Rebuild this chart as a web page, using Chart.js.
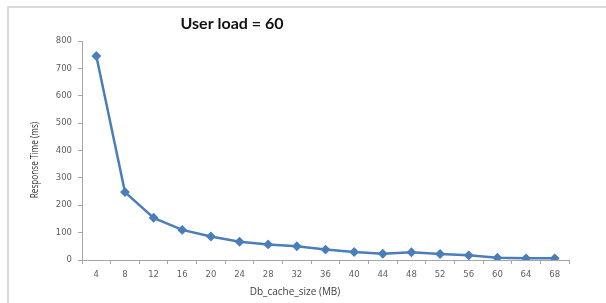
<!DOCTYPE html>
<html>
<head>
<meta charset="utf-8">
<script src="https://cdn.jsdelivr.net/npm/chart.js@4/dist/chart.umd.min.js"></script>
<style>
  html, body { margin: 0; padding: 0; background: #fff; }
  #wrap { position: relative; width: 606px; height: 303px; }
  #frame { position: absolute; left: 7px; top: 6px; right: 0; bottom: 0;
           border-top: 2px solid #d9d9d9; border-left: 2px solid #d9d9d9; }
  canvas { position: absolute; left: 0; top: 0; }
</style>
</head>
<body>
<div id="wrap">
  <div id="frame"></div>
  <canvas id="myChart" width="606" height="303"></canvas>
</div>
<script>
// chart data
var cacheSizes = ["4", "8", "12", "16", "20", "24", "28", "32", "36", "40", "44", "48", "52", "56", "60", "64", "68"];
var responseTimes = [745, 248, 154, 110, 86, 67, 57, 50, 38, 29, 23, 28, 22, 17, 8, 6, 6];
var yTicks = [0, 100, 200, 300, 400, 500, 600, 700, 800];

var chartTitle = "User load = 60";
var xTitle = "Db_cache_size (MB)";
var yTitle = "Response Time (ms)";

// draws the titles where the original had them
var titlesPlugin = {
  id: "titles",
  afterDraw: function (chart) {
    var ctx = chart.ctx;
    ctx.save();
    ctx.fillStyle = "#111";
    ctx.font = "bold 16px Lato, 'Open Sans', sans-serif";
    ctx.textAlign = "center";
    ctx.textBaseline = "middle";
    ctx.fillText(chartTitle, 232, 24);

    ctx.fillStyle = "#404040";
    ctx.font = "10px 'Open Sans', sans-serif";
    ctx.fillText(xTitle, 295, 292);

    // narrow look of the original y title
    ctx.translate(35, 160);
    ctx.rotate(-Math.PI / 2);
    ctx.scale(0.82, 1);
    ctx.fillStyle = "#333";
    ctx.font = "10px 'Open Sans', sans-serif";
    ctx.fillText(yTitle, 0, 0);
    ctx.restore();
  },
};

var tickFont = { family: "'DejaVu Sans', sans-serif", size: 8.5 };

var ctx = document.getElementById("myChart").getContext("2d");
var chart = new Chart(ctx, {
  type: "line",
  data: {
    labels: cacheSizes,
    datasets: [
      {
        label: "Response Time",
        data: responseTimes,
        borderColor: "#4a7ebb",
        backgroundColor: "#4a7ebb",
        borderWidth: 2.5,
        pointStyle: "rectRot",
        pointRadius: 3.2,
        pointHoverRadius: 3.2,
        tension: 0,
      },
    ],
  },
  options: {
    responsive: false,
    animation: false,
    layout: { padding: { top: 41, right: 37, left: 0, bottom: 0 } },
    plugins: {
      legend: { display: false },
      title: { display: false },
      tooltip: { enabled: false },
    },
    scales: {
      x: {
        offset: true,
        grid: {
          offset: true,
          drawOnChartArea: false,
          drawTicks: true,
          tickLength: 4,
          color: "#a6a6a6",
        },
        border: { color: "#a6a6a6", width: 1 },
        ticks: {
          color: "#606060",
          font: tickFont,
          padding: 6,
          maxRotation: 0,
          autoSkip: false,
        },
        afterFit: function (scale) {
          scale.height = 43;
        },
      },
      y: {
        min: 0,
        max: 800,
        afterBuildTicks: function (scale) {
          scale.ticks = yTicks.map(function (v) { return { value: v }; });
        },
        grid: {
          drawOnChartArea: false,
          drawTicks: true,
          tickLength: 4,
          color: "#a6a6a6",
        },
        border: { color: "#a6a6a6", width: 1 },
        ticks: {
          color: "#606060",
          font: tickFont,
          padding: 6,
        },
        afterFit: function (scale) {
          scale.width = 82;
        },
      },
    },
  },
  plugins: [titlesPlugin],
});
</script>
</body>
</html>
